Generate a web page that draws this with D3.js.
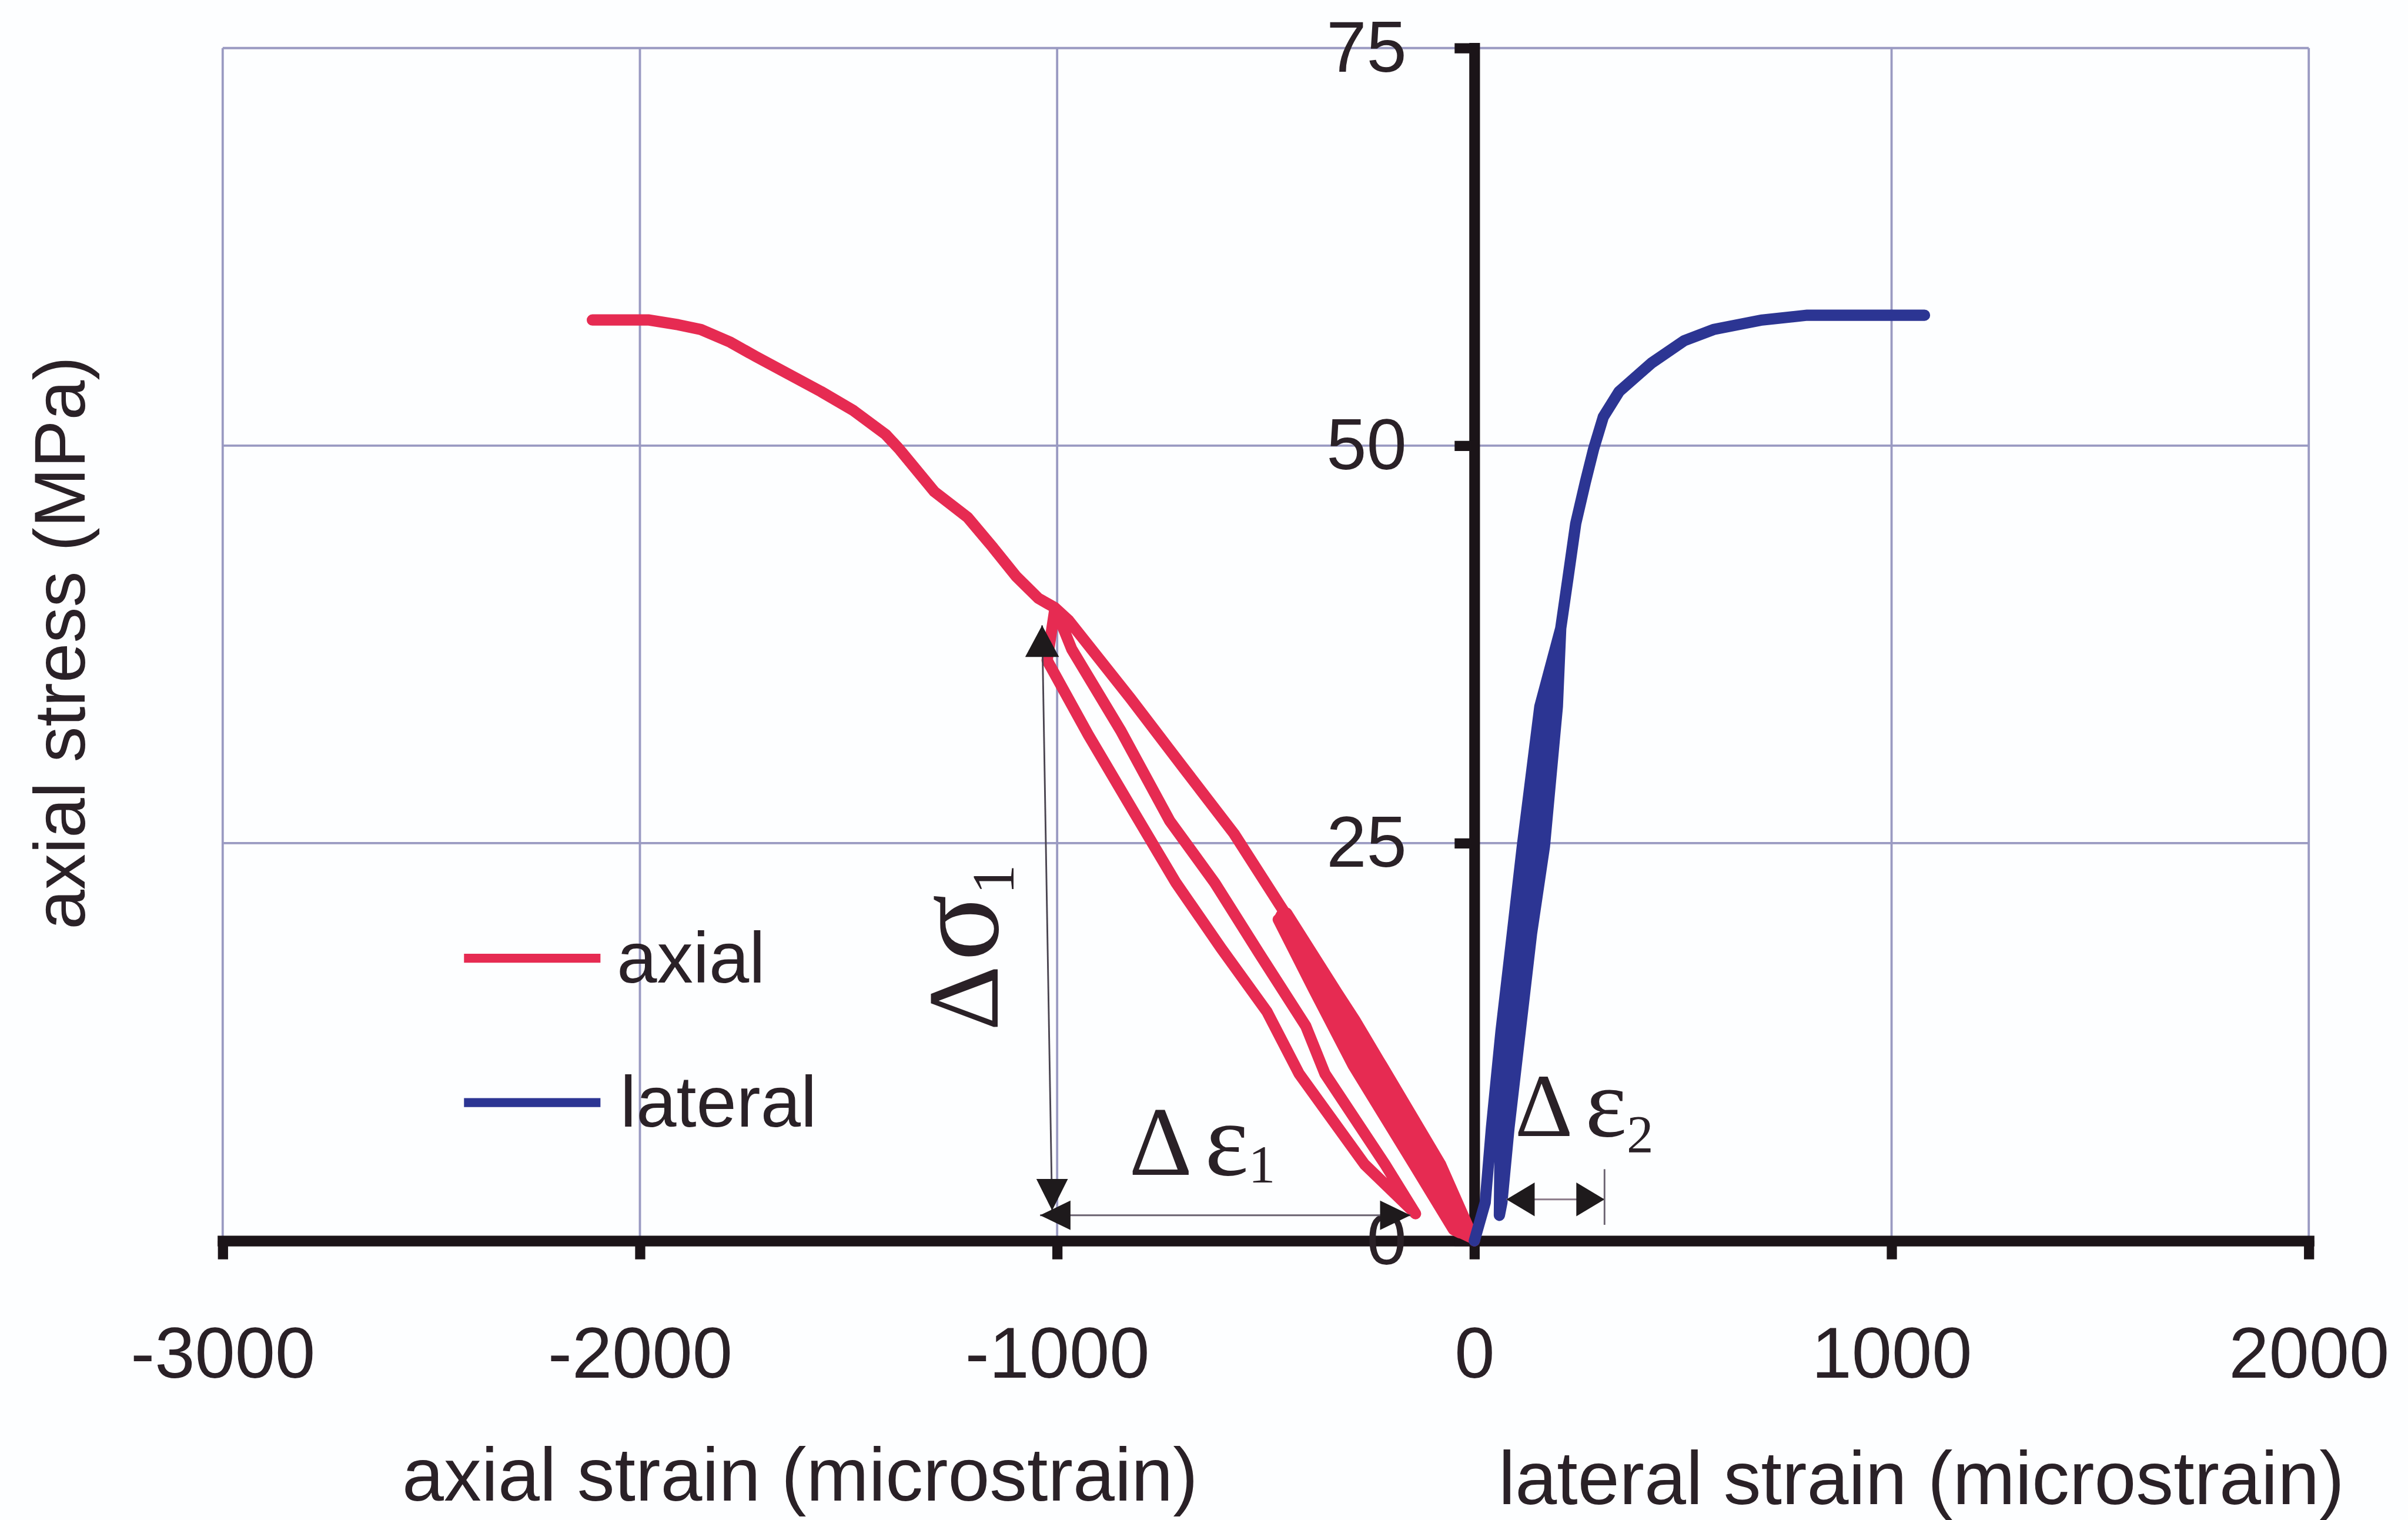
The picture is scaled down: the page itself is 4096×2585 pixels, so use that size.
<!DOCTYPE html>
<html><head><meta charset="utf-8">
<script src="https://cdn.jsdelivr.net/npm/d3@7"></script>
<style>html,body{margin:0;padding:0;background:#fdfeff;} svg{display:block;}</style>
</head><body>
<svg id="chart" width="4096" height="2585" viewBox="0 0 4271 2695"></svg>
<script>
// ---------- data ----------
const xTicks = [-3000, -2000, -1000, 0, 1000, 2000];
const yTicks = [0, 25, 50, 75];
const seriesNames = ["axial", "lateral"];
const xTitles = ["axial strain (microstrain)", "lateral strain (microstrain)"];
const yTitle = "axial stress (MPa)";

// axial strain (microstrain) vs axial stress (MPa), in recorded order
const axialStrain = [0, -81, -221, -334, -450,
  -470, -385, -290, -145, -50,
  -35, -103, -244, -352, -462,
  -466, -368, -267, -124, -40,
  -8, -81, -210, -287, -389, -466, -576, -699, -824, -972, -1005,
  -1024, -925, -817, -715, -607, -497, -420, -263, -141,
  -214, -358, -404, -514, -622, -730, -848, -965, -1005,
  -1045, -1099, -1154, -1215, -1294, -1379, -1411, -1488, -1566, -1644, -1722, -1783, -1854, -1908, -1978, -2114];
const axialStress = [0, 4.8, 11.0, 15.8, 20.6,
  20.2, 15.8, 11.0, 4.8, 0.7,
  0.5, 4.8, 11.0, 15.8, 20.5,
  20.3, 15.8, 11.0, 4.8, 0.6,
  0.2, 4.8, 10.5, 13.9, 18.0, 21.1, 25.6, 29.8, 34.1, 39.0, 39.8,
  36.5, 31.8, 27.0, 22.5, 18.4, 14.4, 10.5, 4.8, 1.7,
  4.8, 10.5, 13.5, 18.0, 22.5, 26.4, 32.1, 37.2, 39.8,
  40.4, 41.8, 43.6, 45.5, 47.1, 49.8, 50.7, 52.2, 53.4, 54.5, 55.6, 56.5, 57.3, 57.6, 57.9, 57.9];

// lateral strain (microstrain) vs axial stress (MPa)
const lateralStrain = [0, 26, 41, 64, 91, 115, 157, 207,
  199, 168, 137, 110, 83, 66, 60,
  62, 87, 114, 141, 178, 207,
  224, 243, 266, 286, 309, 347, 425, 503, 573, 690, 798, 1079];
const lateralStress = [0, 2.4, 7.1, 13.2, 19.3, 24.8, 33.6, 38.5,
  33.6, 24.8, 19.3, 13.2, 7.1, 2.4, 1.6,
  7.1, 13.2, 19.3, 24.8, 33.6, 38.5,
  41.6, 45.1, 47.7, 49.8, 51.8, 53.4, 55.2, 56.6, 57.3, 57.9, 58.2, 58.2];

// annotation geometry in data units
const sigmaArrowStrain = [-1036, -1012], sigmaArrowStress = [38.7, 1.9];
const eps1ArrowStrain = [-1041, -153], eps1ArrowStress = [1.6, 1.6];
const eps2ArrowStrain = [77, 312], eps2ArrowStress = [2.6, 2.6];
const eps2TickStrain = [312, 312], eps2TickStress = [1.0, 4.5];
const labelNames = ["sigma1", "eps1", "eps2"];
const labelStrain = [-1142, -828, 97];
const labelStress = [13.2, 4.15, 6.6];

// ---------- drawing ----------
const svg = d3.select("#chart");
const RED = "#e62b52", BLUE = "#2c3593", INK = "#2a2127", GRID = "#9a9ac2", AX = "#1b1418";
const SANS = "'Liberation Sans', Arial, Helvetica, sans-serif";
const SERIF = "'Liberation Serif', 'Times New Roman', serif";

svg.append("rect").attr("width", 4271).attr("height", 2695).attr("fill", "#fdfeff");

const x = d3.scaleLinear().domain([-3000, 2000]).range([395, 4095]);
const y = d3.scaleLinear().domain([0, 75]).range([2200, 85]);

// grid
const grid = svg.append("g");
grid.selectAll("line.v").data(xTicks).join("line")
  .attr("x1", d => x(d)).attr("x2", d => x(d))
  .attr("y1", y(0)).attr("y2", y(75))
  .attr("stroke", GRID).attr("stroke-width", 4);
grid.selectAll("line.h").data(yTicks.filter(d => d > 0)).join("line")
  .attr("x1", x(-3000)).attr("x2", x(2000))
  .attr("y1", d => y(d)).attr("y2", d => y(d))
  .attr("stroke", GRID).attr("stroke-width", 4);

const line = d3.line().x(d => x(d[0])).y(d => y(d[1]));
const axialPts = axialStrain.map((v, i) => [v, axialStress[i]]);
const lateralPts = lateralStrain.map((v, i) => [v, lateralStress[i]]);

// axes
const xAxis = d3.axisBottom(x).tickValues(xTicks).tickSize(33).tickSizeOuter(0).tickPadding(119);
const gx = svg.append("g").attr("transform", `translate(0,${y(0)})`).call(xAxis);
gx.select(".domain").attr("stroke", AX).attr("stroke-width", 19).attr("stroke-linecap", "square");
gx.selectAll(".tick line").attr("stroke", AX).attr("stroke-width", 18);
gx.selectAll(".tick text").attr("font-family", SANS).attr("font-size", 128).attr("fill", INK)
  .text(d => d < 0 ? "-" + Math.abs(d) : String(d));

const yAxis = d3.axisLeft(y).tickValues(yTicks).tickSize(35).tickSizeOuter(0).tickPadding(85);
const gy = svg.append("g").attr("transform", `translate(${x(0)},0)`).call(yAxis);
gy.select(".domain").attr("stroke", AX).attr("stroke-width", 19).attr("stroke-linecap", "square");
gy.selectAll(".tick line").attr("stroke", AX).attr("stroke-width", 18);
gy.selectAll(".tick text").attr("font-family", SANS).attr("font-size", 128).attr("fill", INK);

// data lines
svg.append("path").datum(axialPts).attr("d", line)
  .attr("fill", "none").attr("stroke", RED).attr("stroke-width", 20)
  .attr("stroke-linejoin", "round").attr("stroke-linecap", "round");
svg.append("path").datum(lateralPts).attr("d", line)
  .attr("fill", "none").attr("stroke", BLUE).attr("stroke-width", 20)
  .attr("stroke-linejoin", "round").attr("stroke-linecap", "round");

// annotation arrows
const ann = svg.append("g");
function seg(xs, ys, w, c) {
  ann.append("line").attr("x1", x(xs[0])).attr("y1", y(ys[0]))
    .attr("x2", x(xs[1])).attr("y2", y(ys[1])).attr("stroke", c).attr("stroke-width", w);
}
function head(px, py, dir, len, hw) {
  let p;
  if (dir === "up") p = [[px, py], [px - hw, py + len], [px + hw, py + len]];
  if (dir === "down") p = [[px, py], [px - hw, py - len], [px + hw, py - len]];
  if (dir === "left") p = [[px, py], [px + len, py - hw], [px + len, py + hw]];
  if (dir === "right") p = [[px, py], [px - len, py - hw], [px - len, py + hw]];
  ann.append("path").attr("d", "M" + p.map(q => q.join(",")).join("L") + "Z").attr("fill", "#1e1a1c");
}
seg(sigmaArrowStrain, sigmaArrowStress, 3, "#4a4450");
head(x(sigmaArrowStrain[0]), y(sigmaArrowStress[0]), "up", 56, 30);
head(x(sigmaArrowStrain[1]), y(sigmaArrowStress[1]), "down", 56, 28);
seg(eps1ArrowStrain, eps1ArrowStress, 3, "#6a6270");
head(x(eps1ArrowStrain[0]), y(eps1ArrowStress[0]), "left", 54, 26);
head(x(eps1ArrowStrain[1]), y(eps1ArrowStress[1]), "right", 54, 26);
seg(eps2ArrowStrain, eps2ArrowStress, 3, "#8a7a88");
head(x(eps2ArrowStrain[0]), y(eps2ArrowStress[0]), "left", 50, 30);
head(x(eps2ArrowStrain[1]), y(eps2ArrowStress[1]), "right", 50, 30);
seg(eps2TickStrain, eps2TickStress, 3, "#6a6270");

// annotation labels
const lab = svg.append("g").attr("font-family", SERIF).attr("fill", INK);
const s1 = lab.append("text")
  .attr("transform", `translate(${x(labelStrain[0])},${y(labelStress[0])}) rotate(-90)`);
s1.append("tspan").attr("font-size", 180).text("Δ");
s1.append("tspan").attr("font-size", 220).attr("dx", 8).text("σ");
s1.append("tspan").attr("font-size", 105).attr("dy", 28).text("1");

const e1 = lab.append("text").attr("x", x(labelStrain[1])).attr("y", y(labelStress[1]));
e1.append("tspan").attr("font-size", 175).text("Δ");
e1.append("tspan").attr("font-size", 185).attr("dx", 22).text("ε");
e1.append("tspan").attr("font-size", 95).attr("dy", 14).text("1");

const e2 = lab.append("text").attr("x", x(labelStrain[2])).attr("y", y(labelStress[2]));
e2.append("tspan").attr("font-size", 160).text("Δ");
e2.append("tspan").attr("font-size", 175).attr("dx", 22).text("ε");
e2.append("tspan").attr("font-size", 95).attr("dy", 30).text("2");

// legend
const legendColors = [RED, BLUE];
const lg = svg.append("g");
seriesNames.forEach((n, i) => {
  const yy = [1699, 1955][i];
  lg.append("line").attr("x1", 823).attr("x2", 1065).attr("y1", yy).attr("y2", yy)
    .attr("stroke", legendColors[i]).attr("stroke-width", 16);
  lg.append("text").attr("x", 1094 + i * 6).attr("y", yy + 43)
    .attr("font-family", SANS).attr("font-size", 128).attr("fill", INK).text(n);
});

// axis titles
svg.append("text").attr("x", 1419).attr("y", 2661).attr("text-anchor", "middle")
  .attr("font-family", SANS).attr("font-size", 133).attr("fill", INK).text(xTitles[0]);
svg.append("text").attr("x", 3408).attr("y", 2667).attr("text-anchor", "middle")
  .attr("font-family", SANS).attr("font-size", 133).attr("fill", INK).text(xTitles[1]);
svg.append("text").attr("transform", "translate(150,1140) rotate(-90)").attr("text-anchor", "middle")
  .attr("font-family", SANS).attr("font-size", 127).attr("fill", INK).text(yTitle);
</script>
</body></html>
